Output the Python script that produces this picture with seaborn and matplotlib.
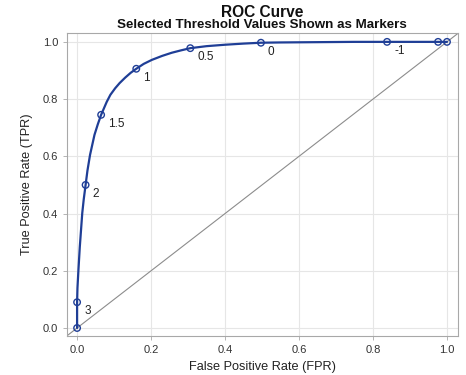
import matplotlib
matplotlib.use("Agg")
import matplotlib.pyplot as plt
import seaborn as sns
import pandas as pd

# ROC curve (FPR, TPR)
curve_fpr = [0.0, 0.0, 0.001, 0.0035, 0.0073, 0.014, 0.018, 0.023, 0.028, 0.035,
             0.047, 0.056, 0.065, 0.08, 0.09, 0.103, 0.115, 0.13, 0.145, 0.160,
             0.18, 0.202, 0.23, 0.256, 0.28, 0.306, 0.35, 0.40, 0.45, 0.497,
             0.55, 0.65, 0.75, 0.838, 0.976, 1.0]
curve_tpr = [0.0, 0.09, 0.14, 0.20, 0.283, 0.402, 0.45, 0.50, 0.55, 0.605,
             0.675, 0.712, 0.745, 0.79, 0.815, 0.838, 0.856, 0.875, 0.892, 0.906,
             0.923, 0.937, 0.951, 0.962, 0.970, 0.978, 0.985, 0.99, 0.994, 0.997,
             0.998, 0.999, 1.0, 1.0, 1.0, 1.0]

# threshold markers
mark_fpr = [0.0, 0.0, 0.023, 0.065, 0.160, 0.306, 0.497, 0.838, 0.976, 1.0]
mark_tpr = [0.0, 0.09, 0.50, 0.745, 0.906, 0.978, 0.997, 1.0, 1.0, 1.0]
mark_lab = ["", "3", "2", "1.5", "1", "0.5", "0", "-1", "", ""]

curve = pd.DataFrame({"fpr": curve_fpr, "tpr": curve_tpr})
marks = pd.DataFrame({"fpr": mark_fpr, "tpr": mark_tpr, "lab": mark_lab})

sns.set_style("whitegrid", {"grid.color": "#e6e6e6", "axes.edgecolor": "#a8a8a8",
                            "xtick.bottom": True, "ytick.left": True})
plt.rcParams["font.family"] = ["Liberation Sans", "DejaVu Sans"]

blue = "#1f3e96"
fig = plt.figure(figsize=(4.66, 3.75), dpi=100)
ax = fig.add_axes([0.144, 0.104, 0.839, 0.808])

# reference diagonal
ax.plot([-0.1, 1.1], [-0.1, 1.1], color="#8c8c8c", lw=0.8, zorder=1)
sns.lineplot(data=curve, x="fpr", y="tpr", sort=False, estimator=None,
             color=blue, lw=1.6, ax=ax, zorder=3)
sns.scatterplot(data=marks, x="fpr", y="tpr", ax=ax, s=22, marker="o",
                facecolor="none", edgecolor=blue, linewidth=1.0, zorder=4)
for x, y, t in zip(mark_fpr, mark_tpr, mark_lab):
    if t:
        ax.annotate(t, (x, y), xytext=(5, -6.5), textcoords="offset points",
                    ha="left", va="center", fontsize=8.5, color="#222222")

ax.set_xlim(-0.027, 1.03)
ax.set_ylim(-0.028, 1.031)
ax.set_xticks([0, 0.2, 0.4, 0.6, 0.8, 1.0])
ax.set_yticks([0, 0.2, 0.4, 0.6, 0.8, 1.0])
ax.xaxis.set_major_formatter(matplotlib.ticker.FormatStrFormatter("%.1f"))
ax.yaxis.set_major_formatter(matplotlib.ticker.FormatStrFormatter("%.1f"))
ax.tick_params(labelsize=8, colors="#333333", length=3, width=0.6)
ax.tick_params(axis="both", color="#a8a8a8")
ax.set_xlabel("False Positive Rate (FPR)", fontsize=9.2, color="#222222", labelpad=4)
ax.set_ylabel("True Positive Rate (TPR)", fontsize=9.2, color="#222222", labelpad=7)
for s in ax.spines.values():
    s.set_linewidth(0.8)

fig.text(0.563, 0.967, "ROC Curve", ha="center", va="center",
         fontsize=11.2, fontweight="bold", color="#111111")
fig.text(0.563, 0.934, "Selected Threshold Values Shown as Markers", ha="center",
         va="center", fontsize=9.6, fontweight="bold", color="#111111")

fig.savefig("out.png", dpi=100)
